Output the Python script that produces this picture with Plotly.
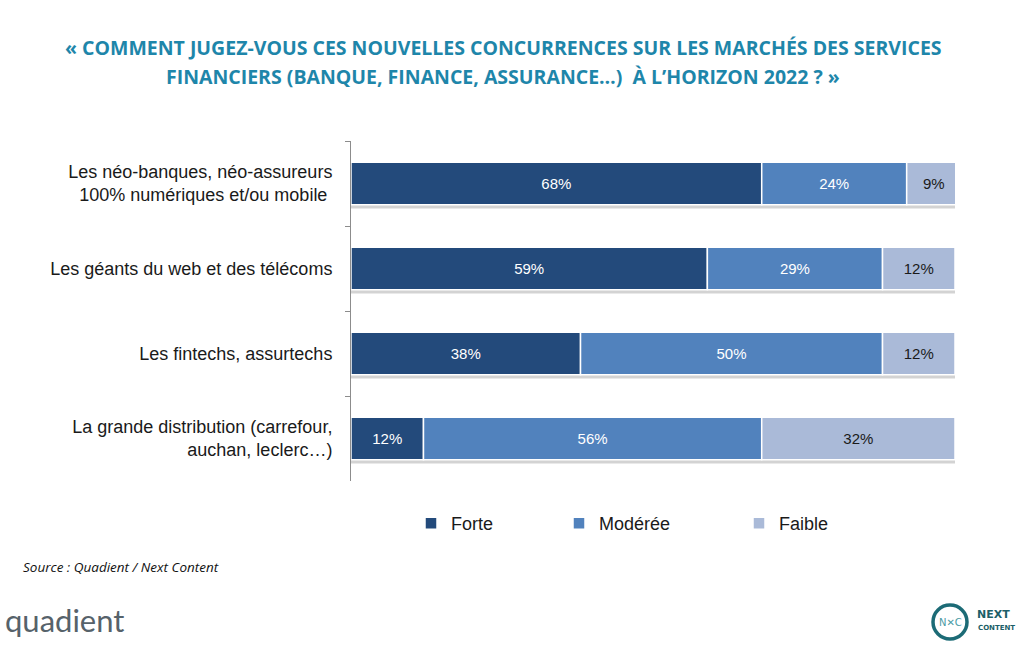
import plotly.graph_objects as go

categories = [
    "Les néo-banques, néo-assureurs<br>100% numériques et/ou mobile ",
    "Les géants du web et des télécoms",
    "Les fintechs, assurtechs",
    "La grande distribution (carrefour,<br>auchan, leclerc…)",
]
forte = [68, 59, 38, 12]
moderee = [24, 29, 50, 56]
faible = [9, 12, 12, 32]
series_names = ["Forte", "Modérée", "Faible"]
colors = ["#234A7B", "#5182BD", "#AABAD8"]
text_colors = ["white", "white", "#1a1a1a"]

BAR_W = 0.5
fig = go.Figure()

# subtle shadow under each bar
totals = [a + b + c for a, b, c in zip(forte, moderee, faible)]
fig.add_trace(go.Bar(
    y=categories, x=totals, base=0, orientation="h",
    width=BAR_W, offset=-BAR_W / 2 + 0.045,
    marker=dict(color="#D3D3D3", line=dict(width=0)),
    showlegend=False, hoverinfo="skip",
))

bases = [
    [0] * len(forte),
    list(forte),
    [a + b for a, b in zip(forte, moderee)],
]
vals = [forte, moderee, faible]
legend_ids = ["legend", "legend2", "legend3"]
for name, v, b, col, tc, lg in zip(series_names, vals, bases, colors, text_colors, legend_ids):
    fig.add_trace(go.Bar(
        y=categories, x=v, base=b, orientation="h", name=name,
        width=BAR_W, offset=-BAR_W / 2,
        marker=dict(color=col, line=dict(color="white", width=1.5)),
        text=[f"{x}%" for x in v], textposition="inside",
        insidetextanchor="middle",
        textfont=dict(family="Liberation Sans, Arial", size=15, color=tc),
        legend=lg,
    ))

leg_common = dict(
    orientation="h", yanchor="middle", y=-0.125, xanchor="left",
    font=dict(family="Liberation Sans, Arial", size=18, color="#1a1a1a"),
    bgcolor="rgba(0,0,0,0)", itemwidth=30,
)

fig.update_layout(
    width=1024, height=645,
    margin=dict(l=351, r=69, t=141, b=164),
    paper_bgcolor="white", plot_bgcolor="white",
    barmode="overlay",
    showlegend=True,
    legend=dict(x=(411 - 351) / 604, **leg_common),
    legend2=dict(x=(559 - 351) / 604, **leg_common),
    legend3=dict(x=(739 - 351) / 604, **leg_common),
    xaxis=dict(range=[0, 100], visible=False, fixedrange=True),
    yaxis=dict(
        categoryorder="array", categoryarray=categories, autorange="reversed",
        showline=True, linecolor="#8c8c8c", linewidth=1,
        ticks="outside", tickson="boundaries", ticklen=5, tickcolor="#8c8c8c",
        ticklabelstandoff=14,
        tickfont=dict(family="Liberation Sans, Arial", size=18, color="#1a1a1a"),
        showgrid=False, zeroline=False,
    ),
    font=dict(family="Liberation Sans, Arial"),
)

title_font = dict(family="Open Sans", size=19.5, color="#1E86AA", weight="bold")
fig.add_annotation(xref="paper", yref="paper", x=(503 - 351) / 604, y=1 + (141 - 47) / 340,
                   text="« COMMENT JUGEZ-VOUS CES NOUVELLES CONCURRENCES SUR LES MARCHÉS DES SERVICES",
                   showarrow=False, font=title_font, xanchor="center", yanchor="middle")
fig.add_annotation(xref="paper", yref="paper", x=(503 - 351) / 604, y=1 + (141 - 76) / 340,
                   text="FINANCIERS (BANQUE, FINANCE, ASSURANCE…)  À L’HORIZON 2022 ? »",
                   showarrow=False, font=title_font, xanchor="center", yanchor="middle")

fig.add_annotation(xref="paper", yref="paper", x=(21 - 351) / 604, y=(481 - 567) / 340,
                   text="<i>Source : Quadient / Next Content</i>", showarrow=False,
                   font=dict(family="Open Sans", size=13.5, color="#111"),
                   xanchor="left", yanchor="middle")

# quadient logo text
fig.add_annotation(xref="paper", yref="paper", x=(3 - 351) / 604, y=(481 - 620) / 340,
                   text="quadient", showarrow=False,
                   font=dict(family="Lato", size=31, color="#56626A", weight=400),
                   xanchor="left", yanchor="middle")

# Next Content logo
cx, cy, r = 950, 622, 17
fig.add_shape(type="circle", xref="paper", yref="paper",
              x0=(cx - r - 351) / 604, x1=(cx + r - 351) / 604,
              y0=(481 - cy - r) / 340, y1=(481 - cy + r) / 340,
              line=dict(color="#1C6B76", width=3.5))
fig.add_annotation(xref="paper", yref="paper", x=(cx - 351) / 604, y=(481 - cy) / 340,
                   text="N✕C", showarrow=False,
                   font=dict(family="DejaVu Sans", size=10, color="#4A9AA3"),
                   xanchor="center", yanchor="middle")
fig.add_annotation(xref="paper", yref="paper", x=(975 - 351) / 604, y=(481 - 614) / 340,
                   text="<b>NEXT</b>", showarrow=False,
                   font=dict(family="DejaVu Sans", size=11, color="#1C5F68"),
                   xanchor="left", yanchor="middle")
fig.add_annotation(xref="paper", yref="paper", x=(976 - 351) / 604, y=(481 - 628) / 340,
                   text="<b>CONTENT</b>", showarrow=False,
                   font=dict(family="DejaVu Sans", size=7, color="#1C5F68"),
                   xanchor="left", yanchor="middle")

fig.write_html("out.html")
